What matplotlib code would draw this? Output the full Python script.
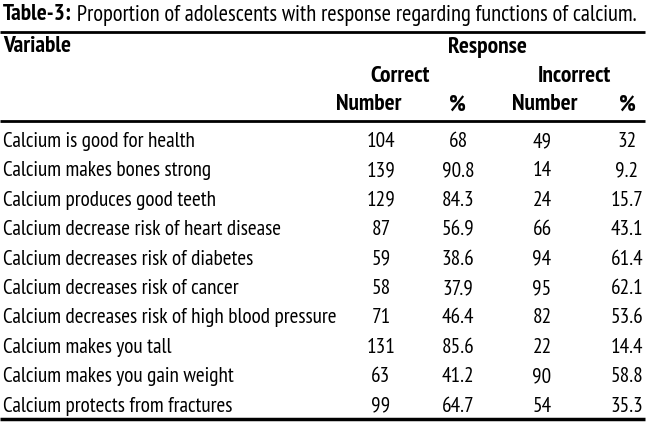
import matplotlib
matplotlib.use("Agg")
import matplotlib.pyplot as plt
from matplotlib import font_manager

title_bold = "Table-3:"
title_rest = " Proportion of adolescents with response regarding functions of calcium."

variables = [
    "Calcium is good for health",
    "Calcium makes bones strong",
    "Calcium produces good teeth",
    "Calcium decrease risk of heart disease",
    "Calcium decreases risk of diabetes",
    "Calcium decreases risk of cancer",
    "Calcium decreases risk of high blood pressure",
    "Calcium makes you tall",
    "Calcium makes you gain weight",
    "Calcium protects from fractures",
]
correct_n = ["104", "139", "129", "87", "59", "58", "71", "131", "63", "99"]
correct_pct = ["68", "90.8", "84.3", "56.9", "38.6", "37.9", "46.4", "85.6", "41.2", "64.7"]
incorrect_n = ["49", "14", "24", "66", "94", "95", "82", "22", "90", "54"]
incorrect_pct = ["32", "9.2", "15.7", "43.1", "61.4", "62.1", "53.6", "14.4", "58.8", "35.3"]

names = {f.name for f in font_manager.fontManager.ttflist}
fam = [n for n in ["PT Sans Narrow", "Fira Sans Condensed", "Encode Sans Condensed"] if n in names][:1] + ["DejaVu Sans"]
plt.rcParams["font.family"] = fam

W, H = 650, 424
fig = plt.figure(figsize=(W / 100, H / 100), dpi=100)
ax = fig.add_axes([0, 0, 1, 1])
ax.set_xlim(0, W)
ax.set_ylim(H, 0)
ax.axis("off")

# pick a size so the longest label is as wide as in the reference (~335 px)
probe = ax.text(0, 0, variables[6], fontsize=12)
fig.canvas.draw()
fs = 12 * 335 / probe.get_window_extent().width
probe.remove()
fs_b = fs * 1.1

def px_width(artist):
    bb = artist.get_window_extent()
    inv = ax.transData.inverted()
    return inv.transform((bb.x1, 0))[0] - inv.transform((bb.x0, 0))[0]

t = ax.text(3, 15, title_bold, fontsize=fs_b, fontweight="bold", va="center", ha="left")
fig.canvas.draw()
ax.text(3 + px_width(t), 15, title_rest, fontsize=fs * 1.06, va="center", ha="left")

ax.plot([0, 645], [32, 32], color="black", lw=2.0, solid_capstyle="butt")
ax.plot([0, 645], [121, 121], color="black", lw=2.0, solid_capstyle="butt")
ax.plot([0, 645], [419, 419], color="black", lw=2.5, solid_capstyle="butt")

ax.text(3, 47, "Variable", fontsize=fs_b, fontweight="bold", va="center")
ax.text(487, 47, "Response", fontsize=fs_b, fontweight="bold", va="center", ha="center")
ax.text(400, 76, "Correct", fontsize=fs_b, fontweight="bold", va="center", ha="center")
ax.text(574, 76, "Incorrect", fontsize=fs_b, fontweight="bold", va="center", ha="center")

col_x = [381, 458, 542, 627]
head_x = [369, 457, 545, 627]
for x, h in zip(head_x, ["Number", "%", "Number", "%"]):
    ax.text(x, 105, h, fontsize=fs_b, fontweight="bold", va="center", ha="center")

for i, v in enumerate(variables):
    y = 141.5 + 29.4 * i
    ax.text(3, y, v, fontsize=fs, va="center", ha="left")
    for x, col in zip(col_x, [correct_n, correct_pct, incorrect_n, incorrect_pct]):
        ax.text(x, y, col[i], fontsize=fs, va="center", ha="center")

fig.savefig("out.png", dpi=100)
